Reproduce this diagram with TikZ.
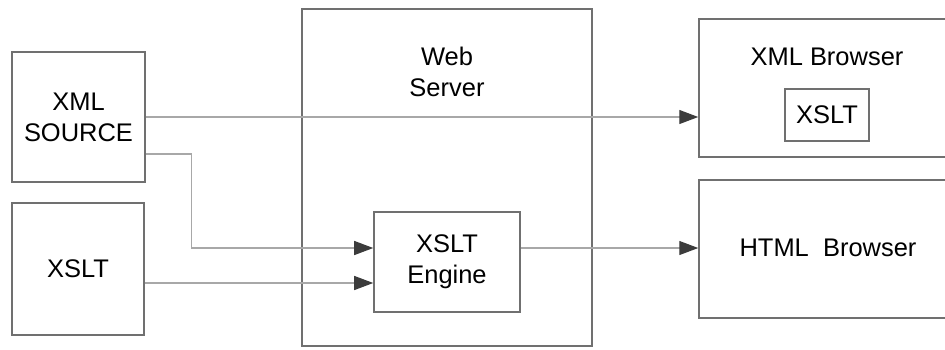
\documentclass[tikz,border=0pt]{standalone}
\usepackage{fontspec}
\setmainfont{Liberation Sans}
\usetikzlibrary{arrows.meta}
\definecolor{boxgray}{HTML}{707070}
\definecolor{linegray}{HTML}{A8A8A8}
\definecolor{tipgray}{HTML}{3C3C3C}
\begin{document}
\begin{tikzpicture}[x = 0.02cm, y = -0.02cm, align = center,
                    font = \fontsize{14.5}{17.8}\selectfont,
                    box/.style  = {draw = boxgray, line width = 0.9pt, inner sep = 0pt},
                    link/.style = {draw = linegray, line width = 0.7pt,
                                   -{Triangle[length = 0.38cm, width = 0.28cm, color = tipgray]}}]
                    \clip (0, 0) rectangle (945, 349);
                    
                    \node[box, minimum width = 2.66cm, minimum height = 2.6cm]  (src)    at ( 78.5, 117) {XML\\SOURCE};
                    \node[box, minimum width = 2.64cm, minimum height = 2.64cm] (xslt)   at (   78, 269) {XSLT};
                    \node[box, minimum width = 5.8cm,  minimum height = 6.74cm] (server) at (  447, 177.5) {};
                    \node (serverlabel) at (447, 72) {Web\\Server};
                    \node[box, minimum width = 2.92cm, minimum height = 2cm]    (engine) at (  447, 262) {XSLT\\Engine};
                    
                    \node[box, minimum width = 6.02cm, minimum height = 2.76cm] (xmlbr)  at (849.5,  88) {};
                    \node (xmlbrlabel) at (827, 57) {XML Browser};
                    \node[box, minimum width = 1.68cm, minimum height = 1.04cm] (xsltin) at (  827, 115) {XSLT};
                    \node[box, minimum width = 6.02cm, minimum height = 2.76cm] (htmlbr) at (849.5, 249) {};
                    \node (htmlbrlabel) at (828, 248) {HTML\ \ Browser};
                    
                    \draw[link] (src.east) -- (src.east -| xmlbr.west);
                    \draw[link] ([yshift = -0.74cm] src.east) -- ++(46, 0) |- ([yshift = 0.28cm] engine.west);
                    \draw[link] ([yshift = -0.28cm] xslt.east) -- ([yshift = -0.28cm] xslt.east -| engine.west);
                    
                    \draw[link] ([yshift = 0.28cm] engine.east) -- ([yshift = 0.28cm] engine.east -| htmlbr.west);
                \end{tikzpicture}
\end{document}
